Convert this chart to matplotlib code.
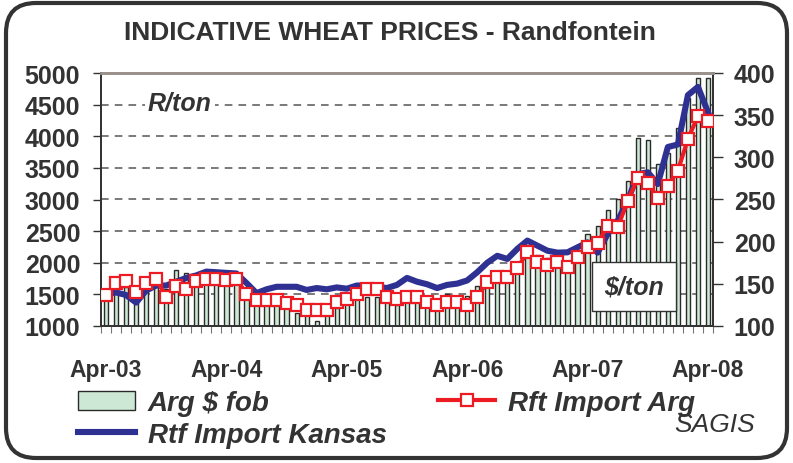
import numpy as np
import matplotlib
matplotlib.use("Agg")
import matplotlib.pyplot as plt
from matplotlib.patches import FancyBboxPatch, Rectangle
from matplotlib.transforms import IdentityTransform, blended_transform_factory

plt.rcParams['font.family'] = ['Liberation Sans', 'DejaVu Sans']

# monthly, Apr-03 .. Apr-08
months = np.arange(61)
tick_pos = [0, 12, 24, 36, 48, 60]
tick_labels = ['Apr-03', 'Apr-04', 'Apr-05', 'Apr-06', 'Apr-07', 'Apr-08']

# Arg $ fob  ($/ton, right axis)
arg_fob = [135, 144, 146, 134, 142, 150, 144, 166, 163, 156,
           158, 156, 153, 150, 136, 130, 128, 126, 123, 116,
           114, 106, 115, 121, 126, 134, 134, 134, 128, 125,
           128, 128, 124, 122, 138, 136, 136, 148, 149, 152,
           156, 164, 185, 184, 181, 178, 173, 188, 209, 218,
           238, 250, 272, 323, 321, 292, 305, 335, 370, 394,
           394]

# Rft Import Arg  (R/ton, left axis)
rft_arg = [1490, 1680, 1717, 1545, 1680, 1750, 1455, 1637, 1590, 1717,
           1750, 1750, 1720, 1750, 1500, 1416, 1416, 1416, 1365, 1325,
           1250, 1250, 1250, 1380, 1420, 1503, 1580, 1580, 1460, 1420,
           1460, 1460, 1374, 1332, 1374, 1374, 1332, 1453, 1700, 1770,
           1770, 1917, 2165, 2007, 1964, 2007, 1928, 2086, 2244, 2312,
           2586, 2560, 2981, 3335, 3261, 3024, 3218, 3455, 3957, 4320,
           4236]

# Rtf Import Kansas  (R/ton, left axis)
rtf_kansas = [1500, 1530, 1490, 1370, 1560, 1640, 1640, 1700, 1760, 1800,
              1860, 1850, 1840, 1830, 1680, 1520, 1580, 1620, 1620, 1620,
              1570, 1600, 1580, 1610, 1590, 1640, 1640, 1620, 1600, 1650,
              1760, 1700, 1660, 1600, 1650, 1670, 1720, 1850, 2000, 2110,
              2060, 2220, 2350, 2270, 2190, 2160, 2165, 2244, 2323, 2160,
              2455, 2665, 2980, 3400, 3430, 3245, 3830, 3870, 4650, 4780,
              4380]

txt = '#333333'

fig = plt.figure(figsize=(7.93, 4.64), dpi=100)
ax = fig.add_axes([101/793, 137/464, 612/793, 253/464])
axr = ax.twinx()
ax.set_zorder(axr.get_zorder() + 1)
ax.patch.set_visible(False)

ax.set_xlim(-0.5, 60.5)
ax.set_ylim(1000, 5000)
axr.set_ylim(100, 400)

# dashed grid (left axis values) drawn behind the bars
grid_tr = blended_transform_factory(axr.transAxes, ax.transData)
for v in range(1500, 5000, 500):
    axr.plot([0, 1], [v, v], transform=grid_tr, color='#555555', lw=1.1,
             ls=(0, (5, 4)), zorder=1)

axr.bar(months, arg_fob, width=0.42, color='#cde8d5', edgecolor='#2a2a2a',
        linewidth=1.0, zorder=2, label='Arg $ fob')

ax.plot(months, rtf_kansas, color='#2e3192', lw=4.4, solid_joinstyle='round',
        label='Rtf Import Kansas', zorder=3)
ax.plot(months, rft_arg, color='#ed1c24', lw=3, marker='s', ms=8.5,
        mfc='white', mec='#ed1c24', mew=1.6, label='Rft Import Arg', zorder=4)

# unit labels
ax.text(0.129, 0.885, 'R/ton', transform=ax.transAxes, ha='center', va='center',
        fontsize=18, fontweight='bold', style='italic', color=txt,
        bbox=dict(facecolor='white', edgecolor='none', pad=2), zorder=5)
ax.add_patch(Rectangle((0.802, 0.059), 0.137, 0.194, transform=ax.transAxes,
                       facecolor='white', edgecolor='#333333', lw=1, zorder=5))
ax.text(0.871, 0.156, '$/ton', transform=ax.transAxes, ha='center', va='center',
        fontsize=18, fontweight='bold', style='italic', color=txt, zorder=6)

# axes styling
for a in (ax, axr):
    for s in a.spines.values():
        s.set_color('#333333')
        s.set_linewidth(1.3)
    a.spines['top'].set_color('#9b918c')
    a.spines['top'].set_linewidth(2)

ax.set_yticks(range(1000, 5001, 500))
ax.tick_params(axis='y', direction='out', length=6, width=1, color='#333333',
               pad=9, labelsize=18, labelcolor=txt)
axr.set_yticks(range(100, 401, 50))
axr.tick_params(axis='y', direction='out', length=7, width=1, color='#333333',
                pad=8, labelsize=18, labelcolor=txt)
for lab in ax.get_yticklabels() + axr.get_yticklabels():
    lab.set_fontweight('bold')

ax.set_xticks(tick_pos)
ax.set_xticklabels(tick_labels, fontsize=16.5, fontweight='bold', color=txt)
ax.set_xticks(np.arange(-0.5, 61, 1), minor=True)
ax.tick_params(axis='x', which='major', length=0, pad=23)
ax.tick_params(axis='x', which='minor', direction='out', length=5, width=0.8,
               color='#777777')

fig.text(390/793, 1 - 33/464, 'INDICATIVE WHEAT PRICES - Randfontein',
         ha='center', va='center', fontsize=19, fontweight='bold', color=txt)

h_bar, l_bar = axr.get_legend_handles_labels()
h_ln, l_ln = ax.get_legend_handles_labels()
fig.legend([h_bar[0], h_ln[0], h_ln[1]], [l_bar[0], l_ln[0], l_ln[1]],
           ncol=2, loc='upper left', bbox_to_anchor=(78/793, 1 - 391/464),
           frameon=False, borderpad=0, borderaxespad=0,
           handlelength=2.05, handletextpad=0.47,
           columnspacing=1.85, labelspacing=0.22,
           prop=dict(size=20, weight='bold', style='italic'),
           labelcolor=txt)

fig.text(755/793, 1 - 425/464, 'SAGIS', ha='right', va='center',
         fontsize=19, style='italic', color=txt)

# rounded outer frame
fig.patches.append(FancyBboxPatch((6, 5), 781, 455, boxstyle='round,pad=0,rounding_size=30',
                                  transform=IdentityTransform(), facecolor='none',
                                  edgecolor='#333333', lw=3))

fig.savefig('out.png', dpi=100)
